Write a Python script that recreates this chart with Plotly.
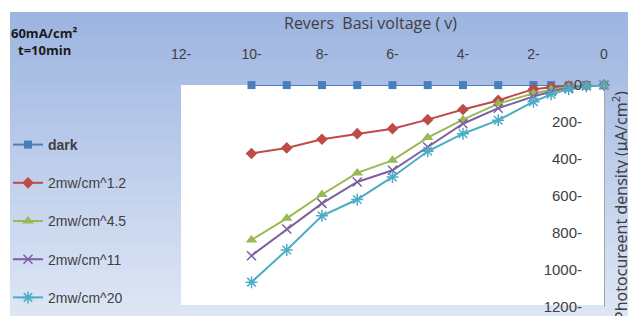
import plotly.graph_objects as go

# ---- data ----
voltage = [10, 9, 8, 7, 6, 5, 4, 3, 2, 1.5, 1, 0.5, 0]
dark = [0, 0, 0, 0, 0, 0, 0, 0, 0, 0, 0, 0, 0]
p_1_2 = [370, 340, 293, 263, 236, 187, 132, 83, 22, 12, 5, 2, 0]
p_4_5 = [838, 721, 592, 475, 407, 284, 187, 100, 45, 25, 10, 3, 0]
p_11 = [923, 779, 640, 524, 461, 335, 209, 125, 62, 35, 15, 4, 0]
p_20 = [1066, 892, 707, 619, 497, 358, 263, 190, 90, 50, 22, 6, 0]

series_names = ["<b>dark</b>", "2mw/cm^1.2", "2mw/cm^4.5", "2mw/cm^11", "2mw/cm^20"]
x_tickvals = [12, 10, 8, 6, 4, 2, 0]
x_ticktext = ["12-", "10-", "8-", "6-", "4-", "2-", "0"]
y_tickvals = [0, 200, 400, 600, 800, 1000, 1200]
y_ticktext = ["0", "200-", "400-", "600-", "800-", "1000-", "1200-"]

# The page body has an 8px margin, so the figure covers reference pixels 8..636 x 8..316
OFF = 8
W, H = 636 - OFF, 316 - OFF
L, T = 181 - OFF, 85 - OFF
PW, PH = 423, 222
R, B = W - L - PW, H - T - PH


def px2paper_x(px):  # px in reference coordinates
    return (px - OFF - L) / PW


def px2paper_y(py):
    return (H - B - (py - OFF)) / PH


fig = go.Figure()

styles = [
    dict(color="#4a7ebb", symbol="square", size=8, lw=0),
    dict(color="#be4b48", symbol="diamond", size=9, lw=0),
    dict(color="#98b954", symbol="triangle-up", size=10, lw=0),
    dict(color="#7d60a0", symbol="x-thin-open", size=9, lw=1.5),
    dict(color="#4bacc6", symbol="asterisk-open", size=10, lw=1.5),
]
for i, (name, ys, st) in enumerate(zip(series_names, [dark, p_1_2, p_4_5, p_11, p_20], styles)):
    fig.add_trace(go.Scatter(
        x=voltage, y=ys, name=name, mode="lines+markers",
        legendgroup=f"g{i}",
        line=dict(color=st["color"], width=2),
        marker=dict(symbol=st["symbol"], size=st["size"], color=st["color"],
                    line=dict(color=st["color"], width=st["lw"])),
        cliponaxis=False,
    ))

# gradient background strips (reference pixel coordinates)
shapes = []
top, bottom = 12, 318
n = 38
c0 = (156, 180, 225)
c1 = (223, 231, 245)
for k in range(n):
    ya = top + (bottom - top) * k / n
    yb = top + (bottom - top) * (k + 1) / n + 0.6
    t = (k + 0.5) / n
    col = tuple(int(round(c0[j] + (c1[j] - c0[j]) * t)) for j in range(3))
    shapes.append(dict(type="rect", xref="paper", yref="paper", layer="below",
                       x0=px2paper_x(10), x1=px2paper_x(640),
                       y0=px2paper_y(yb), y1=px2paper_y(ya),
                       fillcolor="rgb(%d,%d,%d)" % col, line=dict(width=0)))
shapes.append(dict(type="rect", xref="paper", yref="paper", layer="below",
                   x0=0, x1=1, y0=px2paper_y(305), y1=1, fillcolor="white", line=dict(width=0)))

fig.update_layout(
    width=W, height=H,
    margin=dict(l=L, r=R, t=T, b=B, autoexpand=False),
    paper_bgcolor="white", plot_bgcolor="rgba(0,0,0,0)",
    shapes=shapes,
    font=dict(family="Liberation Sans", color="#404040"),
    xaxis=dict(range=[12, -0.001], side="top", tickvals=x_tickvals, ticktext=x_ticktext,
               showgrid=False, zeroline=False, showline=False, ticks="",
               ticklabelstandoff=22, ticklabeloverflow="allow",
               tickfont=dict(size=14, color="#404040", family="Liberation Sans")),
    yaxis=dict(range=[1200.5, -0.5], side="right", tickvals=y_tickvals, ticktext=y_ticktext,
               ticklabelposition="inside", ticklabelstandoff=22, ticklabeloverflow="allow",
               showgrid=False, zeroline=False, showline=True, linecolor="#a6a6a6",
               linewidth=1, ticks="",
               tickfont=dict(size=15, color="#404040", family="Liberation Sans")),
    legend=dict(xref="container", yref="container", x=0, y=1 - 121 / H,
                xanchor="left", yanchor="top", bgcolor="rgba(0,0,0,0)",
                tracegroupgap=17, itemwidth=30, maxheight=H,
                font=dict(size=14, color="#404040", family="Liberation Sans")),
    showlegend=True,
    annotations=[
        dict(text="Revers  Basi voltage ( v)", xref="paper", yref="paper",
             x=px2paper_x(370), y=px2paper_y(23), xanchor="center", yanchor="middle",
             showarrow=False, font=dict(size=16, color="#404040", family="Open Sans")),
        dict(text="<b>60mA/cm²</b>", xref="paper", yref="paper",
             x=px2paper_x(44), y=px2paper_y(33), xanchor="center", yanchor="middle",
             showarrow=False, font=dict(size=13, color="#1a1a1a", family="Open Sans")),
        dict(text="<b>t=10min</b>", xref="paper", yref="paper",
             x=px2paper_x(44), y=px2paper_y(50), xanchor="center", yanchor="middle",
             showarrow=False, font=dict(size=13, color="#1a1a1a", family="Open Sans")),
        dict(text="Photocureent density (μA/cm<sup>2</sup>)", xref="paper", yref="paper",
             x=px2paper_x(620), y=px2paper_y(89), xanchor="center", yanchor="top",
             textangle=-90, showarrow=False,
             font=dict(size=16, color="#404040", family="Noto Sans")),
    ],
)

fig.write_html("out.html")
